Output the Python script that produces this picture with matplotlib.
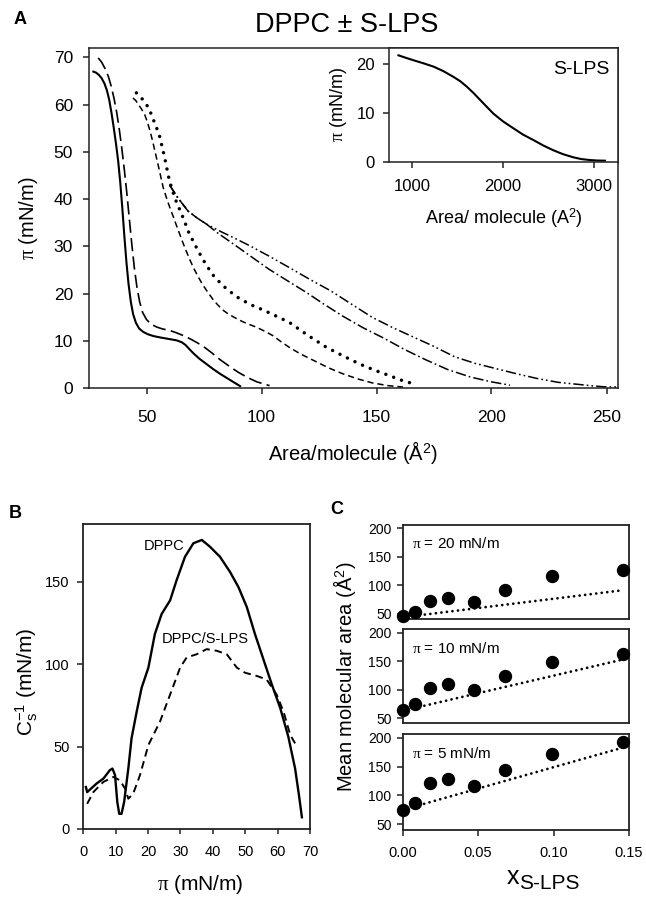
import matplotlib.pyplot as plt

plt.rcParams['font.family'] = ['Liberation Sans', 'DejaVu Sans']
plt.rcParams['mathtext.fontset'] = 'custom'
plt.rcParams['mathtext.rm'] = 'Liberation Serif'
plt.rcParams['mathtext.it'] = 'Liberation Serif:italic'
plt.rcParams['mathtext.sf'] = 'Liberation Sans'
plt.rcParams['lines.scale_dashes'] = False

#===========================================================================================================
#INPUTS
#===========================================================================================================
# panel A: isotherms (area per molecule, surface pressure)
solid_x = [26.9, 28, 29.3, 30.5, 31.7, 32.8, 33.8, 34.8, 35.8, 36.8, 37.7, 38.6, 39.5, 40.4, 41.3, 42.2,
           43.2, 44.2, 45.4, 46.8, 48.5, 50.5, 53, 56, 59.5, 63, 65.3, 67, 68.7, 70.5, 73, 76, 79, 82, 85,
           88, 90.7]
solid_y = [67.0, 66.8, 66.3, 65.6, 64.5, 63.0, 61.0, 58.2, 55.0, 51.5, 48.0, 43.5, 38.0, 32.0, 26.5, 22.0,
           18.2, 15.6, 13.8, 12.6, 11.9, 11.4, 11.0, 10.7, 10.4, 10.1, 9.7, 9.1, 8.2, 7.3, 6.2, 5.1, 4.0,
           3.0, 2.1, 1.2, 0.4]
longdash_x = [29, 30.5, 32, 33.4, 34.6, 35.8, 37, 38.1, 39.2, 40.3, 41.4, 42.5, 43.6, 44.7, 45.8, 47, 48.3,
              50, 52, 54.5, 57, 60, 63, 66, 69, 72, 75, 78.5, 82, 86, 90, 94, 98, 103.5]
longdash_y = [69.9, 69.0, 67.6, 66.0, 64.0, 61.5, 58.5, 55.0, 51.0, 46.5, 41.5, 36.0, 30.5, 25.5, 21.5,
              18.3, 16.0, 14.5, 13.5, 12.9, 12.5, 12.2, 11.7, 11.1, 10.4, 9.6, 8.7, 7.4, 6.0, 4.6, 3.3, 2.2,
              1.3, 0.5]
shortdash_x = [44.1, 45.3, 46.5, 47.8, 49.2, 50.4, 51.5, 52.6, 53.7, 54.6, 55.5, 56.4, 57.3, 58.4, 59.5,
               60.6, 61.8, 63.1, 64.5, 65.8, 67.2, 68.8, 70.5, 72.4, 74.3, 75.9, 77.5, 79, 80.6, 82, 83.5,
               85.2, 86.9, 89.5, 92, 95, 97.7, 101.5, 104.9, 108.5, 112.1, 117, 122.8, 129, 135.4, 142,
               148, 155, 161.5]
shortdash_y = [61.4, 60.9, 60.0, 59.1, 57.9, 56.3, 54.5, 52.4, 50.1, 48.2, 46.3, 44.3, 42.4, 40.7, 39.1,
               37.6, 36.1, 34.3, 32.5, 30.8, 29.1, 27.2, 25.4, 23.6, 22.0, 20.8, 19.7, 18.7, 17.8, 17.1,
               16.4, 15.8, 15.3, 14.6, 14.0, 13.4, 12.9, 12.0, 11.1, 9.8, 8.6, 7.2, 5.8, 4.3, 3.0, 1.9,
               1.1, 0.5, 0.2]
dotted_x = [45.6, 48, 51, 53, 55.5, 57.8, 60, 62.5, 65.3, 68.5, 72.5, 76, 79.7, 85, 90.5, 96, 101.3, 106.5,
            112.1, 120, 128.3, 135.5, 142.6, 149, 155.2, 160.5, 166]
dotted_y = [62.5, 61.3, 59.3, 56.8, 53.7, 49, 43.8, 40, 36.8, 32.8, 29.0, 26.0, 23.4, 20.9, 18.9, 17.5, 16.4,
            15.2, 13.9, 11.2, 8.6, 6.8, 5.1, 3.8, 2.7, 1.7, 0.9]
dashdot_x = [60, 63.6, 68, 72, 76.1, 81, 86.9, 95, 103.1, 111, 119.3, 127, 135.4, 144, 153.4, 162, 171.3,
             181, 191, 200, 208]
dashdot_y = [43.0, 40.3, 37.5, 36.0, 34.7, 32.8, 30.8, 28.0, 25.2, 22.8, 20.3, 17.8, 15.2, 12.8, 10.5, 8.2,
             6.0, 3.9, 2.3, 1.3, 0.6]
dashdotdot_x = [60, 63.6, 68, 72, 76.1, 82, 88, 95, 103, 112.1, 121, 130, 139, 148, 157, 166, 175, 184, 193,
                202, 211, 220, 229, 238, 244, 249, 255]
dashdotdot_y = [43.0, 40.3, 37.5, 36.0, 34.7, 33.2, 31.8, 30.1, 28.0, 25.5, 23.0, 20.6, 17.8, 15.0, 12.8,
                10.8, 8.8, 6.6, 5.2, 4.1, 3.0, 2.0, 1.2, 0.75, 0.45, 0.25, 0.2]

# inset: S-LPS alone
lps_x = [849, 930, 1014, 1120, 1234, 1340, 1454, 1530, 1601, 1675, 1747, 1820, 1893, 2000, 2113, 2220, 2333,
         2440, 2553, 2660, 2773, 2860, 2956, 3040, 3121]
lps_y = [21.8, 21.3, 20.8, 20.2, 19.5, 18.6, 17.4, 16.5, 15.4, 14.1, 12.7, 11.3, 9.9, 8.3, 6.9, 5.6, 4.5,
         3.4, 2.4, 1.6, 0.96, 0.6, 0.4, 0.3, 0.27]

# panel B: compressibility modulus vs surface pressure
dppc_pi = [0.8, 1.2, 4.1, 6.2, 8.2, 9.0, 9.8, 10.5, 11.1, 11.8, 12.6, 13.9, 14.9, 16.5, 18.0, 20.1, 22.1,
           24.2, 26.8, 28.8, 31.4, 34.0, 36.6, 39.1, 42.2, 45.3, 47.9, 50.5, 53.0, 55.6, 58.2, 60.8, 63.3,
           65.4, 66.6, 67.5]
dppc_cs = [25.5, 22.4, 27.6, 30.6, 35.7, 36.7, 32.7, 16.3, 9.2, 9.2, 16.3, 36.7, 55.1, 71.4, 85.7, 98.0,
           118.4, 130.6, 138.8, 151.0, 165.3, 173.5, 175.5, 171.4, 165.3, 156.1, 146.9, 134.7, 118.4, 103.1,
           87.8, 73.5, 56.1, 36.7, 20.4, 7.1]
mix_pi = [1.2, 3.1, 6.2, 9.3, 11.3, 12.9, 13.9, 15.4, 17.5, 20.1, 23.7, 26.8, 29.9, 31.9, 35.0, 38.1, 41.2,
          44.3, 47.4, 49.9, 53.6, 56.6, 59.7, 61.8, 63.9, 65.4]
mix_cs = [15.3, 22.4, 28.6, 31.6, 29.6, 24.5, 18.4, 21.4, 32.7, 51.0, 65.3, 81.6, 98.0, 104.1, 106.1, 109.2,
          108.2, 106.1, 98.0, 94.9, 92.9, 90.8, 81.6, 71.4, 57.1, 52.0]

# panel C: mean molecular area vs S-LPS mole fraction
x_lps = [0.0, 0.008, 0.018, 0.030, 0.047, 0.068, 0.099, 0.146]
area_20 = [47, 52.9, 72, 77.3, 70.9, 91.3, 116.3, 126.2]
area_10 = [64.5, 74.4, 103.5, 109.9, 99.4, 123.3, 148.3, 163.4]
area_5 = [75.6, 86.6, 120.9, 127.9, 116.9, 144.2, 172.7, 192.4]
ideal_x = [0.0, 0.146]
ideal_20 = [44, 91.5]
ideal_10 = [63, 153]
ideal_5 = [75, 183]
c_labels = [r"$\mathrm{\pi}$ = 20 mN/m", r"$\mathrm{\pi}$ = 10 mN/m", r"$\mathrm{\pi}$ = 5 mN/m"]

#===========================================================================================================
#LAYOUT
#===========================================================================================================
W, H = 646, 899
fig = plt.figure(figsize=(W / 100, H / 100), dpi=100)
k = '#222222'


def box(l, t, r, b):
    return [l / W, 1 - b / H, (r - l) / W, (b - t) / H]


def ftext(x, y, s, **kw):
    fig.text(x / W, 1 - y / H, s, **kw)


def style(ax, lw=1.1):
    for sp in ax.spines.values():
        sp.set_linewidth(lw)
        sp.set_color(k)

#===========================================================================================================
#PANEL A
#===========================================================================================================
ax1 = fig.add_axes(box(89, 48, 618, 388))
ax1.plot(solid_x, solid_y, color='k', lw=1.5)
ax1.plot(longdash_x, longdash_y, color='k', lw=1.2, linestyle=(0, (9.5, 3.8)))
ax1.plot(shortdash_x, shortdash_y, color='k', lw=1.1, linestyle=(0, (4.5, 2.8)))
ax1.plot(dotted_x, dotted_y, color='k', lw=2.5, linestyle=(0, (0.01, 6)), dash_capstyle='round')
ax1.plot(dashdot_x, dashdot_y, color='k', lw=1.1, linestyle=(0, (7.5, 2.2, 1.2, 2.2)))
ax1.plot(dashdotdot_x, dashdotdot_y, color='k', lw=1.1, linestyle=(0, (7.5, 2.2, 1.2, 2.2, 1.2, 2.2)))
ax1.set_xlim(25, 255)
ax1.set_ylim(0, 72)
ax1.set_xticks(range(50, 251, 50))
ax1.set_yticks(range(0, 71, 10))
ax1.tick_params('x', direction='out', length=4.5, width=1.1, labelsize=12.5, pad=11, color=k)
ax1.tick_params('y', direction='out', length=4.5, width=1.1, labelsize=12.5, pad=7, color=k)
style(ax1)
ftext(347, 25, u"DPPC \u00b1 S-LPS", fontsize=19.5, ha='center', va='center')
ftext(29, 218, r"$\mathrm{\pi}$ (mN/m)", fontsize=14.5, rotation=90, ha='center', va='center')
ftext(353, 453, r"Area/molecule (Å$^{\mathsf{2}}$)", fontsize=14.5, ha='center', va='center')
ftext(20, 20, "A", fontsize=13, fontweight='bold', ha='center', va='center')

# inset
ax2 = fig.add_axes(box(389, 48, 618, 162))
ax2.plot(lps_x, lps_y, color='k', lw=1.5)
ax2.set_xlim(745, 3265)
ax2.set_ylim(0, 23.3)
ax2.set_xticks([1000, 2000, 3000])
ax2.set_yticks([0, 10, 20])
ax2.tick_params('x', direction='out', length=4, width=1.1, labelsize=12, pad=8, color=k)
ax2.tick_params('y', direction='out', length=4, width=1.1, labelsize=12, pad=6, color=k)
style(ax2)
ax2.text(0.965, 0.81, "S-LPS", transform=ax2.transAxes, fontsize=14, ha='right', va='center')
ftext(339, 105, r"$\mathrm{\pi}$ (mN/m)", fontsize=13, rotation=90, ha='center', va='center')
ftext(504, 218, r"Area/ molecule (A$^{\mathsf{2}}$)", fontsize=13, ha='center', va='center')

#===========================================================================================================
#PANEL B
#===========================================================================================================
ax3 = fig.add_axes(box(83.3, 524.3, 310, 829))
ax3.plot(dppc_pi, dppc_cs, color='k', lw=1.7)
ax3.plot(mix_pi, mix_cs, color='k', lw=1.4, linestyle=(0, (5.5, 3.5)))
ax3.set_xlim(0, 70)
ax3.set_ylim(0, 185)
ax3.set_xticks(range(0, 71, 10))
ax3.set_yticks([0, 50, 100, 150])
ax3.tick_params('x', direction='out', length=3.5, width=1.1, labelsize=10.5, pad=8, color=k)
ax3.tick_params('y', direction='out', length=4.5, width=1.1, labelsize=10.5, pad=5.5, color=k)
style(ax3, 1.3)
ax3.text(25, 172, "DPPC", fontsize=10.5, ha='center', va='center')
ax3.text(37.6, 115.3, "DPPC/S-LPS", fontsize=10.5, ha='center', va='center')
ftext(27, 682, r"C$_{\mathsf{s}}^{\mathsf{-1}}$ (mN/m)", fontsize=15, rotation=90, ha='center', va='center')
ftext(200, 885, r"$\mathrm{\pi}$ (mN/m)", fontsize=15, ha='center', va='center')
ftext(15, 514, "B", fontsize=13, fontweight='bold', ha='center', va='center')

#===========================================================================================================
#PANEL C
#===========================================================================================================
c_boxes = [(525, 619), (629.3, 723.3), (734.3, 829.5)]
c_series = [area_20, area_10, area_5]
c_ideal = [ideal_20, ideal_10, ideal_5]
for i in range(3):
    ax = fig.add_axes(box(402.7, c_boxes[i][0], 629, c_boxes[i][1]))
    ax.plot(ideal_x, c_ideal[i], color='k', lw=2.0, linestyle=(0, (0.01, 4.0)), dash_capstyle='round')
    ax.plot(x_lps, c_series[i], 'o', color='k', ms=8.6, clip_on=False, zorder=3)
    ax.set_xlim(0, 0.15)
    ax.set_ylim(41, 206)
    ax.set_yticks([50, 100, 150, 200])
    ax.tick_params('y', direction='out', length=4, width=1.1, labelsize=10, pad=4, color=k)
    if i < 2:
        ax.set_xticks([])
    else:
        ax.set_xticks([0, 0.05, 0.10, 0.15])
        ax.set_xticklabels(["0.00", "0.05", "0.10", "0.15"])
        ax.tick_params('x', direction='out', length=4, width=1.1, labelsize=10.5, pad=8, color=k)
    style(ax, 1.3)
    ax.text(0.04, 0.8, c_labels[i], transform=ax.transAxes, fontsize=11, ha='left', va='center')

ftext(345, 677, r"Mean molecular area (Å$^{\mathsf{2}}$)", fontsize=14.5, rotation=90, ha='center', va='center')
ftext(519, 884, "x", fontsize=18, ha='right', va='baseline')
ftext(519, 889, "S-LPS", fontsize=15, ha='left', va='baseline')
ftext(337, 510, "C", fontsize=13, fontweight='bold', ha='center', va='center')

plt.savefig("out.png", dpi=100)
